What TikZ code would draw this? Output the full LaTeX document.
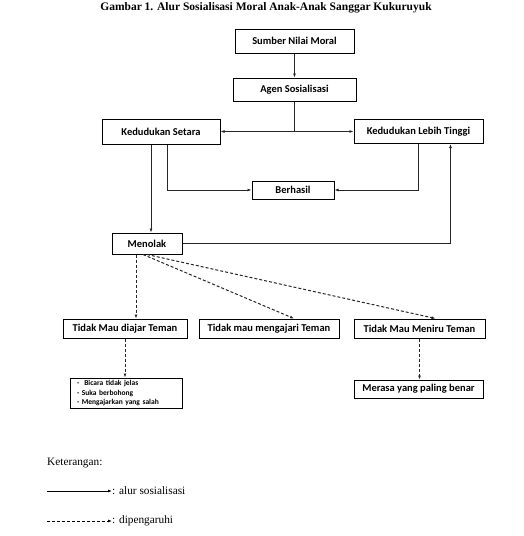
\documentclass[tikz,border=0pt]{standalone}
\usepackage{fontspec}
\setmainfont{Liberation Serif}
\newfontfamily\boxfont{Carlito}
\usetikzlibrary{arrows.meta}
\tikzset{
    every node/.style={font=\boxfont\bfseries\fontsize{10.5}{12}\selectfont},
    line/.style={-{Latex[length=4pt,width=3pt]}, line width=1pt, draw=black!85},
    dline/.style={line, dash pattern=on 3pt off 2pt},
    process/.style={rectangle, draw, line width=1pt, align=center, inner sep=0pt},
    note/.style={font=\rmfamily\mdseries\fontsize{11.3}{13}\selectfont, anchor=west, inner sep=0pt}
}

\begin{document}
\begin{tikzpicture}[
    x=1pt, y=-1pt,
    % pixel grid of the scanned figure
]
\useasboundingbox (0,0) rectangle (523,536);

\node[font=\rmfamily\bfseries\fontsize{11.5}{13}\selectfont] (judul) at (266,8)
    {Gambar 1. Alur Sosialisasi Moral Anak-Anak Sanggar Kukuruyuk};

\node[process, minimum width=119pt, minimum height=24pt] (sumber) at (294.5,41) {Sumber Nilai Moral};
\node[process, minimum width=123pt, minimum height=23pt] (agen) at (294.5,89.5) {Agen Sosialisasi};
\node[process, minimum width=118pt, minimum height=25pt] (setara) at (161,131.5) {Kedudukan Setara};
\node[process, minimum width=129pt, minimum height=24pt] (tinggi) at (418.5,131.5) {Kedudukan Lebih Tinggi};
\node[process, minimum width=82pt, minimum height=18pt] (berhasil) at (293,190) {Berhasil};
\node[process, minimum width=70pt, minimum height=21pt] (menolak) at (147,243.5) {Menolak};

\node[process, minimum width=124pt, minimum height=19pt] (diajar) at (125,328.5) {Tidak Mau diajar Teman};
\node[process, minimum width=140pt, minimum height=19pt] (mengajari) at (269,328.5) {Tidak mau mengajari Teman};
\node[process, minimum width=131pt, minimum height=19pt] (meniru) at (419.5,328.5) {Tidak Mau Meniru Teman};

\node[process, minimum width=112pt, minimum height=30pt, align=left, inner xsep=7pt,
    text width=98pt, font=\boxfont\bfseries\fontsize{7.5}{9.5}\selectfont] (list) at (126,393)
    {-\ \ Bicara tidak jelas\\- Suka berbohong\\- Mengajarkan yang salah};
\node[process, minimum width=129pt, minimum height=18pt] (merasa) at (418.5,389) {Merasa yang paling benar};

% alur sosialisasi
\draw[line] (sumber.south) -- (sumber.south |- agen.north);
\draw[line] (agen.south) |- (setara.east);
\draw[line] (agen.south) |- (tinggi.west);
\draw[line] ([xshift=6pt]setara.south) |- (berhasil.west);
\draw[line] (tinggi.south) |- (berhasil.east);
\draw[line] ([xshift=-10pt]setara.south) -- ([xshift=-10pt]setara.south |- menolak.north);
\draw[line] (menolak.east) -| ([xshift=32pt]tinggi.south);

% dipengaruhi
\draw[dline] ([xshift=-11pt]menolak.south) -- ([xshift=-11pt]menolak.south |- diajar.north);
\draw[dline] ([xshift=-4pt]menolak.south) -- ([xshift=25pt]mengajari.north);
\draw[dline] (menolak.south) -- ([xshift=16pt]meniru.north);
\draw[dline] (diajar.south) -- (diajar.south |- list.north);
\draw[dline] (meniru.south) -- (meniru.south |- merasa.north);

% keterangan
\node[note] (ket) at (47,463) {Keterangan:};
\coordinate (solidA) at (47,491);
\node[note] (alur) at (112,491) {: alur sosialisasi};
\draw[line, draw=black, line width=0.8pt] (solidA) -- (alur.west);
\coordinate (dashA) at (47,521);
\node[note] (pengaruh) at (112,521) {: dipengaruhi};
\draw[dline, draw=black, line width=0.8pt] (dashA) -- (pengaruh.west);

\end{tikzpicture}
\end{document}
